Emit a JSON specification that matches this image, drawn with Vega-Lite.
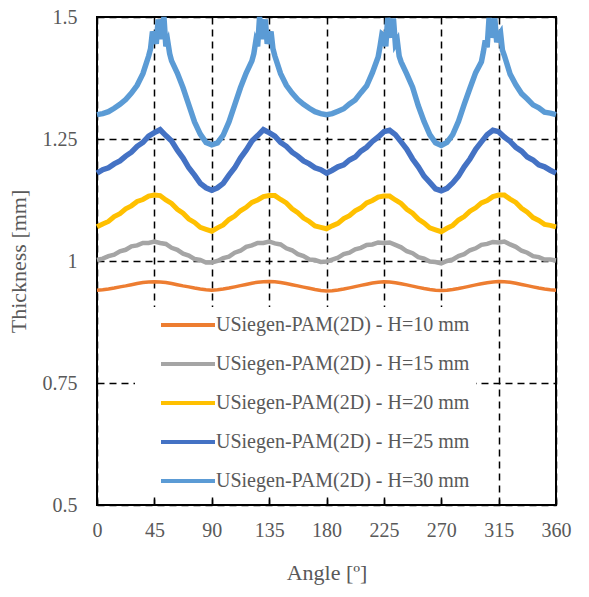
{
"$schema":"https://vega.github.io/schema/vega-lite/v6.json",
"width":459,"height":488,
"autosize":{"type":"none"},
"padding":{"left":97,"top":17,"right":33,"bottom":92},
"background":"white",
"datasets":{
"h10":[{"a":0,"t":0.940},{"a":4.5,"t":0.941},{"a":9,"t":0.9425},{"a":13.5,"t":0.9445},{"a":18,"t":0.947},{"a":22.5,"t":0.949},{"a":27,"t":0.9515},{"a":31.5,"t":0.954},{"a":36,"t":0.956},{"a":40.5,"t":0.957},{"a":45,"t":0.9575},{"a":49.5,"t":0.957},{"a":54,"t":0.956},{"a":58.5,"t":0.954},{"a":63,"t":0.9515},{"a":67.5,"t":0.949},{"a":72,"t":0.947},{"a":76.5,"t":0.9445},{"a":81,"t":0.9425},{"a":85.5,"t":0.941},{"a":90,"t":0.940},
{"a":94.5,"t":0.941},{"a":99,"t":0.9425},{"a":103.5,"t":0.9445},{"a":108,"t":0.947},{"a":112.5,"t":0.9495},{"a":117,"t":0.952},{"a":121.5,"t":0.9545},{"a":126,"t":0.9565},{"a":130.5,"t":0.9575},{"a":135,"t":0.958},{"a":139.5,"t":0.9575},{"a":144,"t":0.956},{"a":148.5,"t":0.954},{"a":153,"t":0.9515},{"a":157.5,"t":0.949},{"a":162,"t":0.9465},{"a":166.5,"t":0.944},{"a":171,"t":0.9415},{"a":175.5,"t":0.9395},{"a":180,"t":0.9385},
{"a":184.5,"t":0.939},{"a":189,"t":0.9405},{"a":193.5,"t":0.9425},{"a":198,"t":0.945},{"a":202.5,"t":0.9475},{"a":207,"t":0.950},{"a":211.5,"t":0.9525},{"a":216,"t":0.955},{"a":220.5,"t":0.9565},{"a":225,"t":0.9575},{"a":229.5,"t":0.957},{"a":234,"t":0.9555},{"a":238.5,"t":0.9535},{"a":243,"t":0.951},{"a":247.5,"t":0.9485},{"a":252,"t":0.946},{"a":256.5,"t":0.9435},{"a":261,"t":0.9415},{"a":265.5,"t":0.940},{"a":270,"t":0.9395},
{"a":274.5,"t":0.940},{"a":279,"t":0.9415},{"a":283.5,"t":0.9435},{"a":288,"t":0.946},{"a":292.5,"t":0.9485},{"a":297,"t":0.951},{"a":301.5,"t":0.9535},{"a":306,"t":0.9555},{"a":310.5,"t":0.957},{"a":315,"t":0.958},{"a":319.5,"t":0.9575},{"a":324,"t":0.9565},{"a":328.5,"t":0.9545},{"a":333,"t":0.952},{"a":337.5,"t":0.9495},{"a":342,"t":0.947},{"a":346.5,"t":0.9445},{"a":351,"t":0.9425},{"a":355.5,"t":0.941},{"a":360,"t":0.940}],
"h15":[{"a":0,"t":1.002},{"a":4.5,"t":1.005},{"a":9,"t":1.010},{"a":13.5,"t":1.013},{"a":18,"t":1.020},{"a":22.5,"t":1.023},{"a":27,"t":1.030},{"a":31.5,"t":1.032},{"a":36,"t":1.037},{"a":40.5,"t":1.037},{"a":45,"t":1.040},{"a":49.5,"t":1.037},{"a":54,"t":1.035},{"a":58.5,"t":1.027},{"a":63,"t":1.023},{"a":67.5,"t":1.015},{"a":72,"t":1.011},{"a":76.5,"t":1.004},{"a":81,"t":1.002},{"a":85.5,"t":0.997},{"a":90,"t":0.997},
{"a":94.5,"t":1.000},{"a":99,"t":1.006},{"a":103.5,"t":1.009},{"a":108,"t":1.017},{"a":112.5,"t":1.021},{"a":117,"t":1.029},{"a":121.5,"t":1.032},{"a":126,"t":1.037},{"a":130.5,"t":1.037},{"a":135,"t":1.040},{"a":139.5,"t":1.036},{"a":144,"t":1.034},{"a":148.5,"t":1.026},{"a":153,"t":1.022},{"a":157.5,"t":1.014},{"a":162,"t":1.010},{"a":166.5,"t":1.003},{"a":171,"t":1.002},{"a":175.5,"t":0.998},{"a":180,"t":0.999},
{"a":184.5,"t":1.003},{"a":189,"t":1.007},{"a":193.5,"t":1.014},{"a":198,"t":1.017},{"a":202.5,"t":1.024},{"a":207,"t":1.027},{"a":211.5,"t":1.033},{"a":216,"t":1.034},{"a":220.5,"t":1.038},{"a":225,"t":1.037},{"a":229.5,"t":1.038},{"a":234,"t":1.033},{"a":238.5,"t":1.028},{"a":243,"t":1.020},{"a":247.5,"t":1.016},{"a":252,"t":1.008},{"a":256.5,"t":1.005},{"a":261,"t":0.999},{"a":265.5,"t":0.998},{"a":270,"t":0.995},
{"a":274.5,"t":1.000},{"a":279,"t":1.003},{"a":283.5,"t":1.010},{"a":288,"t":1.014},{"a":292.5,"t":1.022},{"a":297,"t":1.026},{"a":301.5,"t":1.033},{"a":306,"t":1.035},{"a":310.5,"t":1.039},{"a":315,"t":1.038},{"a":319.5,"t":1.040},{"a":324,"t":1.034},{"a":328.5,"t":1.029},{"a":333,"t":1.021},{"a":337.5,"t":1.017},{"a":342,"t":1.010},{"a":346.5,"t":1.008},{"a":351,"t":1.003},{"a":355.5,"t":1.003},{"a":360,"t":1.001}],
"h20":[{"a":0,"t":1.070},{"a":4.5,"t":1.076},{"a":9,"t":1.081},{"a":13.5,"t":1.091},{"a":18,"t":1.097},{"a":22.5,"t":1.107},{"a":27,"t":1.113},{"a":31.5,"t":1.122},{"a":36,"t":1.126},{"a":40.5,"t":1.133},{"a":45,"t":1.135},{"a":49.5,"t":1.134},{"a":54,"t":1.125},{"a":58.5,"t":1.118},{"a":63,"t":1.106},{"a":67.5,"t":1.098},{"a":72,"t":1.086},{"a":76.5,"t":1.079},{"a":81,"t":1.069},{"a":85.5,"t":1.065},{"a":90,"t":1.061},
{"a":94.5,"t":1.068},{"a":99,"t":1.074},{"a":103.5,"t":1.085},{"a":108,"t":1.092},{"a":112.5,"t":1.103},{"a":117,"t":1.110},{"a":121.5,"t":1.120},{"a":126,"t":1.125},{"a":130.5,"t":1.132},{"a":135,"t":1.134},{"a":139.5,"t":1.134},{"a":144,"t":1.126},{"a":148.5,"t":1.119},{"a":153,"t":1.107},{"a":157.5,"t":1.099},{"a":162,"t":1.088},{"a":166.5,"t":1.081},{"a":171,"t":1.072},{"a":175.5,"t":1.069},{"a":180,"t":1.066},
{"a":184.5,"t":1.072},{"a":189,"t":1.077},{"a":193.5,"t":1.087},{"a":198,"t":1.093},{"a":202.5,"t":1.103},{"a":207,"t":1.109},{"a":211.5,"t":1.119},{"a":216,"t":1.124},{"a":220.5,"t":1.131},{"a":225,"t":1.133},{"a":229.5,"t":1.133},{"a":234,"t":1.125},{"a":238.5,"t":1.118},{"a":243,"t":1.106},{"a":247.5,"t":1.098},{"a":252,"t":1.086},{"a":256.5,"t":1.078},{"a":261,"t":1.068},{"a":265.5,"t":1.064},{"a":270,"t":1.060},
{"a":274.5,"t":1.067},{"a":279,"t":1.073},{"a":283.5,"t":1.084},{"a":288,"t":1.091},{"a":292.5,"t":1.102},{"a":297,"t":1.109},{"a":301.5,"t":1.119},{"a":306,"t":1.124},{"a":310.5,"t":1.132},{"a":315,"t":1.135},{"a":319.5,"t":1.135},{"a":324,"t":1.127},{"a":328.5,"t":1.120},{"a":333,"t":1.108},{"a":337.5,"t":1.100},{"a":342,"t":1.089},{"a":346.5,"t":1.083},{"a":351,"t":1.075},{"a":355.5,"t":1.073},{"a":360,"t":1.070}],
"h25":[{"a":0,"t":1.180},{"a":4.5,"t":1.187},{"a":9,"t":1.191},{"a":13.5,"t":1.199},{"a":18,"t":1.205},{"a":22.5,"t":1.215},{"a":27,"t":1.223},{"a":31.5,"t":1.235},{"a":36,"t":1.243},{"a":40.5,"t":1.256},{"a":45,"t":1.263},{"a":49.5,"t":1.269},{"a":54,"t":1.257},{"a":58.5,"t":1.246},{"a":63,"t":1.227},{"a":67.5,"t":1.211},{"a":72,"t":1.191},{"a":76.5,"t":1.176},{"a":81,"t":1.159},{"a":85.5,"t":1.150},{"a":90,"t":1.145},
{"a":94.5,"t":1.150},{"a":99,"t":1.159},{"a":103.5,"t":1.176},{"a":108,"t":1.191},{"a":112.5,"t":1.211},{"a":117,"t":1.227},{"a":121.5,"t":1.246},{"a":126,"t":1.257},{"a":130.5,"t":1.269},{"a":135,"t":1.263},{"a":139.5,"t":1.256},{"a":144,"t":1.243},{"a":148.5,"t":1.235},{"a":153,"t":1.223},{"a":157.5,"t":1.215},{"a":162,"t":1.205},{"a":166.5,"t":1.199},{"a":171,"t":1.191},{"a":175.5,"t":1.187},{"a":180,"t":1.180},
{"a":184.5,"t":1.186},{"a":189,"t":1.193},{"a":193.5,"t":1.197},{"a":198,"t":1.207},{"a":202.5,"t":1.213},{"a":207,"t":1.225},{"a":211.5,"t":1.233},{"a":216,"t":1.245},{"a":220.5,"t":1.254},{"a":225,"t":1.265},{"a":229.5,"t":1.268},{"a":234,"t":1.259},{"a":238.5,"t":1.244},{"a":243,"t":1.229},{"a":247.5,"t":1.209},{"a":252,"t":1.193},{"a":256.5,"t":1.174},{"a":261,"t":1.161},{"a":265.5,"t":1.148},{"a":270,"t":1.144},
{"a":274.5,"t":1.149},{"a":279,"t":1.160},{"a":283.5,"t":1.174},{"a":288,"t":1.193},{"a":292.5,"t":1.209},{"a":297,"t":1.229},{"a":301.5,"t":1.244},{"a":306,"t":1.259},{"a":310.5,"t":1.268},{"a":315,"t":1.265},{"a":319.5,"t":1.254},{"a":324,"t":1.245},{"a":328.5,"t":1.233},{"a":333,"t":1.225},{"a":337.5,"t":1.213},{"a":342,"t":1.207},{"a":346.5,"t":1.197},{"a":351,"t":1.193},{"a":355.5,"t":1.186},{"a":360,"t":1.180}],
"h30":[{"a":0,"t":1.300},{"a":4.5,"t":1.302},{"a":9,"t":1.306},{"a":13.5,"t":1.313},{"a":18,"t":1.321},{"a":22.5,"t":1.331},{"a":27,"t":1.344},{"a":31.5,"t":1.360},{"a":36,"t":1.384},{"a":40.5,"t":1.420},{"a":42,"t":1.435},{"a":43.5,"t":1.470},{"a":45,"t":1.460},{"a":46.5,"t":1.445},{"a":48,"t":1.495},{"a":49.5,"t":1.475},{"a":51,"t":1.455},{"a":52.5,"t":1.500},{"a":54,"t":1.440},{"a":55.5,"t":1.450},{"a":57,"t":1.425},{"a":58.5,"t":1.410},{"a":63,"t":1.385},{"a":67.5,"t":1.355},{"a":72,"t":1.320},{"a":76.5,"t":1.285},{"a":81,"t":1.260},{"a":85.5,"t":1.243},{"a":90,"t":1.238},
{"a":94.5,"t":1.242},{"a":99,"t":1.258},{"a":103.5,"t":1.285},{"a":108,"t":1.320},{"a":112.5,"t":1.355},{"a":117,"t":1.385},{"a":121.5,"t":1.410},{"a":123,"t":1.425},{"a":124.5,"t":1.450},{"a":126,"t":1.440},{"a":127.5,"t":1.500},{"a":129,"t":1.455},{"a":130.5,"t":1.475},{"a":132,"t":1.495},{"a":133.5,"t":1.445},{"a":135,"t":1.460},{"a":136.5,"t":1.470},{"a":138,"t":1.435},{"a":139.5,"t":1.420},{"a":144,"t":1.384},{"a":148.5,"t":1.360},{"a":153,"t":1.344},{"a":157.5,"t":1.331},{"a":162,"t":1.321},{"a":166.5,"t":1.313},{"a":171,"t":1.306},{"a":175.5,"t":1.302},{"a":180,"t":1.300},
{"a":184.5,"t":1.302},{"a":189,"t":1.307},{"a":193.5,"t":1.312},{"a":198,"t":1.322},{"a":202.5,"t":1.330},{"a":207,"t":1.345},{"a":211.5,"t":1.359},{"a":216,"t":1.386},{"a":220.5,"t":1.418},{"a":222,"t":1.440},{"a":223.5,"t":1.465},{"a":225,"t":1.462},{"a":226.5,"t":1.440},{"a":228,"t":1.498},{"a":229.5,"t":1.470},{"a":231,"t":1.458},{"a":232.5,"t":1.497},{"a":234,"t":1.445},{"a":235.5,"t":1.452},{"a":237,"t":1.420},{"a":238.5,"t":1.408},{"a":243,"t":1.383},{"a":247.5,"t":1.356},{"a":252,"t":1.318},{"a":256.5,"t":1.286},{"a":261,"t":1.259},{"a":265.5,"t":1.242},{"a":270,"t":1.237},
{"a":274.5,"t":1.243},{"a":279,"t":1.259},{"a":283.5,"t":1.286},{"a":288,"t":1.321},{"a":292.5,"t":1.354},{"a":297,"t":1.386},{"a":301.5,"t":1.408},{"a":303,"t":1.428},{"a":304.5,"t":1.452},{"a":306,"t":1.438},{"a":307.5,"t":1.498},{"a":309,"t":1.458},{"a":310.5,"t":1.472},{"a":312,"t":1.497},{"a":313.5,"t":1.448},{"a":315,"t":1.462},{"a":316.5,"t":1.468},{"a":318,"t":1.432},{"a":319.5,"t":1.421},{"a":324,"t":1.383},{"a":328.5,"t":1.361},{"a":333,"t":1.343},{"a":337.5,"t":1.332},{"a":342,"t":1.320},{"a":346.5,"t":1.314},{"a":351,"t":1.305},{"a":355.5,"t":1.303},{"a":360,"t":1.300}]
},
"encoding":{
"x":{"field":"a","type":"quantitative","scale":{"domain":[0,360],"nice":false,"zero":false},
"axis":{"values":[0,45,90,135,180,225,270,315,360],"labelExpr":"'' + datum.value","title":"Angle [º]","grid":true,"gridColor":"black","gridDash":[7,5],"gridWidth":1.5,"domain":false,"ticks":true,"tickColor":"black","tickSize":-6,"tickWidth":1.5,"labelFont":"Liberation Serif","labelFontSize":20,"labelColor":"#595959","labelFlush":false,"labelOverlap":false,"labelPadding":21,"titleFont":"Liberation Serif","titleFontSize":22,"titleColor":"#595959","titleFontWeight":"normal","titlePadding":22,"zindex":0}},
"y":{"field":"t","type":"quantitative","scale":{"domain":[0.5,1.5],"nice":false,"zero":false},
"axis":{"values":[0.5,0.75,1,1.25,1.5],"labelExpr":"'' + datum.value","title":"Thickness [mm]","grid":true,"gridColor":"black","gridDash":[7,5],"gridWidth":1.5,"domain":false,"ticks":false,"labelFont":"Liberation Serif","labelFontSize":20,"labelColor":"#595959","labelPadding":20,"titleFont":"Liberation Serif","titleFontSize":22,"titleColor":"#595959","titleFontWeight":"normal","titlePadding":12,"zindex":0}}
},
"layer":[
{"data":{"name":"h10"},"mark":{"type":"line","strokeWidth":3.5},"encoding":{"color":{"datum":"USiegen-PAM(2D) - H=10 mm","type":"nominal","title":null,"scale":{"domain":["USiegen-PAM(2D) - H=10 mm","USiegen-PAM(2D) - H=15 mm","USiegen-PAM(2D) - H=20 mm","USiegen-PAM(2D) - H=25 mm","USiegen-PAM(2D) - H=30 mm"],"range":["#ED7D31","#A5A5A5","#FFC000","#4472C4","#5B9BD5"]},
"legend":{"orient":"none","legendX":38,"legendY":290,"fillColor":"white","padding":6,"symbolType":"M-2.7,0H2.7","symbolSize":400,"symbolStrokeWidth":4,"symbolOffset":35,"labelOffset":16,"labelFontSize":20,"labelColor":"#595959","labelFont":"Liberation Serif","rowPadding":17,"labelLimit":400}}}},
{"data":{"name":"h15"},"mark":{"type":"line","strokeWidth":4.5},"encoding":{"color":{"datum":"USiegen-PAM(2D) - H=15 mm","type":"nominal"}}},
{"data":{"name":"h20"},"mark":{"type":"line","strokeWidth":5},"encoding":{"color":{"datum":"USiegen-PAM(2D) - H=20 mm","type":"nominal"}}},
{"data":{"name":"h25"},"mark":{"type":"line","strokeWidth":5.5},"encoding":{"color":{"datum":"USiegen-PAM(2D) - H=25 mm","type":"nominal"}}},
{"data":{"name":"h30"},"mark":{"type":"line","strokeWidth":5.5},"encoding":{"color":{"datum":"USiegen-PAM(2D) - H=30 mm","type":"nominal"}}}
],
"config":{"font":"Liberation Serif","view":{"stroke":"black","strokeWidth":2},"legend":{"fillColor":"white"},
"axis":{"labelFont":"Liberation Serif","titleFont":"Liberation Serif"},
"style":{"guide-label":{"font":"Liberation Serif"},"guide-title":{"font":"Liberation Serif"}}}
}
